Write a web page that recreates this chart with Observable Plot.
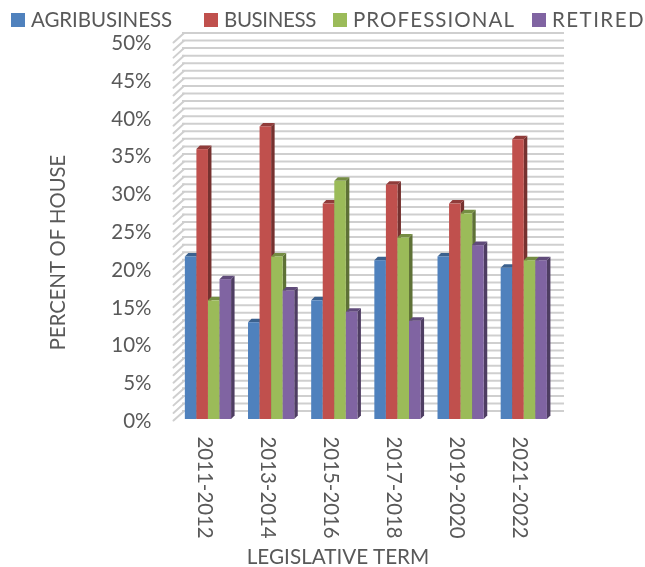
<!DOCTYPE html>
<html><head><meta charset="utf-8">
<script src="https://cdn.jsdelivr.net/npm/d3@7"></script>
<script src="https://cdn.jsdelivr.net/npm/@observablehq/plot@0.6"></script>
<style>
html,body{margin:0;padding:0;background:#fff;width:645px;height:567px;overflow:hidden}
#chart{filter:blur(.5px)}
#legend{position:relative;height:34px;font:20.5px Lato,sans-serif;color:#595959}
#legend span{position:absolute;top:9px;line-height:20px;white-space:nowrap}
#legend i{position:absolute;top:13px;width:14px;height:14px}
svg{display:block}
</style></head><body>
<div id="chart"><div id="legend"></div></div>
<script>
const terms = ["2011-2012","2013-2014","2015-2016","2017-2018","2019-2020","2021-2022"];
const seriesNames = ["AGRIBUSINESS","BUSINESS","PROFESSIONAL","RETIRED"];
const agribusiness = [21.5,12.8,15.7,21,21.5,20];
const business = [35.7,38.7,28.5,31,28.5,37];
const professional = [15.7,21.5,31.5,24,27.2,21];
const retired = [18.5,17,14.2,13,23,21];
const colors = ["#4f81bd","#c0504d","#9bbb59","#8064a2"];
const legendX = [11,204,333,532];
const legendWidths = [141,92,162,93];
const yTicks = d3.range(0,51,5);
const gridValues = d3.range(0,51,1);

const columns = [agribusiness,business,professional,retired];
const barShare = 0.183, groupInset = 0.14;
const rows = terms.flatMap((term,t)=>seriesNames.map((s,i)=>({
  term,series:s,value:columns[i][t],
  x1:t+groupInset+i*barShare,x2:t+groupInset+(i+1)*barShare
})));

const legend = document.getElementById("legend");
seriesNames.forEach((s,i)=>{
  const sw=document.createElement("i");sw.style.left=legendX[i]+"px";sw.style.background=colors[i];legend.appendChild(sw);
  const t=document.createElement("span");t.style.left=(legendX[i]+20)+"px";t.textContent=s;legend.appendChild(t);
  const w=t.getBoundingClientRect().width;
  t.style.letterSpacing=((legendWidths[i]-w)/s.length)+"px";
});

const tickMark={draw(c,l){c.moveTo(0,0);c.lineTo(0,-l);},r:0};
function bars3d(index,scales,values,dims,ctx,next){
  const g=next(index,scales,values,dims,ctx);
  d3.select(g).selectAll("rect").each(function(){
    const r=d3.select(this),x=+r.attr("x"),y=+r.attr("y"),w=+r.attr("width"),h=+r.attr("height"),f=r.attr("fill");
    const dx=3.5,dy=3.5,parent=this.parentNode;
    const add=(pts,fill)=>{const p=document.createElementNS("http://www.w3.org/2000/svg","polygon");
      p.setAttribute("points",pts.map(q=>q.join(",")).join(" "));p.setAttribute("fill",fill);parent.insertBefore(p,this);};
    add([[x+w,y],[x+w+dx,y-dy],[x+w+dx,y+h-dy],[x+w,y+h]],d3.color(f).darker(1.4).formatHex());
    add([[x,y],[x+dx,y-dy],[x+w+dx,y-dy],[x+w,y]],d3.color(f).darker(.8).formatHex());
  });
  return g;
}

const plot = Plot.plot({
  width:645,height:533,
  marginLeft:176,marginRight:90,marginTop:7,marginBottom:148,
  style:{fontFamily:"Lato,sans-serif",background:"transparent",overflow:"visible"},
  y:{domain:[0,50],label:null},
  x:{domain:[0,terms.length],label:null},
  color:{domain:seriesNames,range:colors},
  marks:[
    Plot.ruleY(gridValues,{y:d=>d,stroke:"#cfcfcf",strokeWidth:2,dx:6,dy:-8.5,insetRight:-3}),
    Plot.vector(gridValues,{y:d=>d,frameAnchor:"left",length:14,rotate:48,anchor:"start",shape:tickMark,
      stroke:"#cfcfcf",strokeWidth:2,dx:-3,dy:1}),
    Plot.rectY(rows,{x1:"x1",x2:"x2",y:"value",fill:"series",render:bars3d}),
    Plot.axisY({ticks:yTicks,tickFormat:d=>d+"%",tickSize:0,tickPadding:25,fontSize:20.5,fill:"#595959",dy:2,label:null}),
    Plot.axisX({ticks:terms.map((_,i)=>i+0.5),tickFormat:d=>terms[d-0.5],tickRotate:90,tickSize:0,tickPadding:17,fontSize:20.4,fill:"#595959",dx:-4,label:null}),
    Plot.text(["PERCENT OF HOUSE"],{frameAnchor:"left",textAnchor:"middle",rotate:-90,dx:-118,dy:22,fontSize:20.3,fill:"#595959"}),
    Plot.text(["LEGISLATIVE TERM"],{frameAnchor:"bottom",dx:-28,dy:144,fontSize:20.7,fill:"#595959"})
  ]
});
document.getElementById("chart").appendChild(plot);
</script>
</body></html>
